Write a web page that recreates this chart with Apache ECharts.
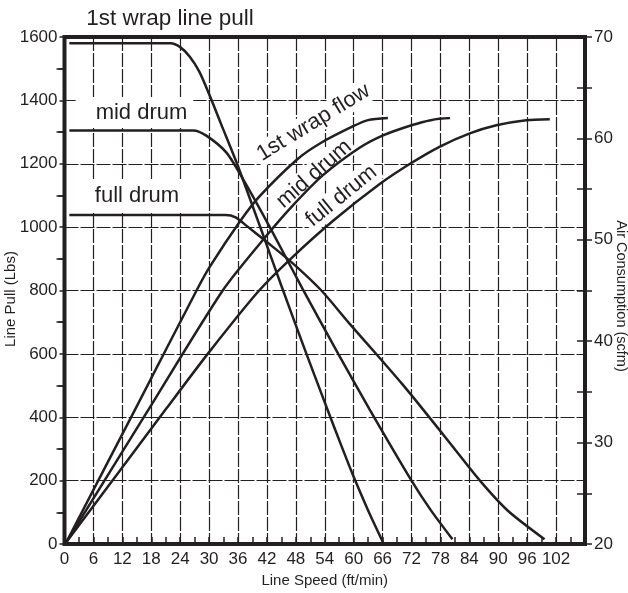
<!DOCTYPE html>
<html>
<head>
<meta charset="utf-8">
<script src="https://cdn.jsdelivr.net/npm/echarts@6/dist/echarts.min.js"></script>
<style>
html,body{margin:0;padding:0;background:#fff;}
#chart{width:628px;height:593px;}
</style>
</head>
<body>
<div id="chart"></div>
<script>
// ---- data ----
// Line pull (lbs) vs line speed (ft/min)
const pullFirstWrap = [[1,1580],[22,1580],[24,1568],[26,1538],[28,1490],[30,1420],[32.5,1325],[35.8,1200],[40.5,1005],[45,815],[50.2,600],[54.6,423],[57.5,308],[60,212],[63,106],[66.1,5]];
const pullMidDrum   = [[1,1305],[26.7,1305],[29.5,1288],[33.6,1235],[37.1,1150],[42.6,1000],[49.4,805],[56.8,600],[63.3,425],[72,200],[76,107],[80.5,15]];
const pullFullDrum  = [[1,1038],[33.4,1038],[35.5,1031],[37.8,1004],[42,953],[47.2,888],[53.3,800],[59,698],[65,594],[70,506],[74,432],[80,318],[86.2,200],[92,105],[99.6,15]];
// Air consumption (scfm) vs line speed
const flowFirstWrap = [[0.4,20.2],[14.8,33.4],[27.4,45.0],[30.1,47.3],[36.4,51.8],[40.5,54.3],[48.2,57.9],[53,59.5],[59.9,61.2],[63,61.8],[67.1,62.0]];
const flowMidDrum   = [[0.4,20.2],[17.1,33.0],[32.9,45.05],[41.9,50.4],[47.4,53.4],[53.7,56.4],[61.3,59.1],[66.1,60.3],[72,61.3],[76,61.8],[80,62.0]];
const flowFullDrum  = [[0.4,20.2],[21.2,33.4],[29.8,38.8],[40.2,44.9],[47.1,48.2],[55.8,51.9],[65.4,55.5],[71.7,57.5],[77.9,59.2],[84.1,60.5],[89.6,61.3],[95.8,61.8],[100.7,61.9]];

const xRange = [0, 108];      // labelled 0 … 102 every 6
const pullRange = [0, 1600];  // every 200
const flowRange = [20, 70];   // every 10

const ink = '#231f20';
const gridDash = {color: ink, width: 1.2, type: [14, 2]};
const FONT = 'Liberation Sans';

const chart = echarts.init(document.getElementById('chart'), null, {renderer: 'canvas'});

function lineSeries(name, data, yIdx) {
  return {
    name, type: 'line', data, yAxisIndex: yIdx, z: 2,
    showSymbol: false, symbol: 'none', smooth: 0.25,
    lineStyle: {color: ink, width: 2.5}, animation: false
  };
}

function label(text, x, y, size, deg, pad) {
  const st = {text, fill: ink, fontSize: size, fontFamily: FONT, align: 'center', verticalAlign: 'middle'};
  if (pad) { st.backgroundColor = '#fff'; st.padding = pad; }
  return {type: 'text', z: 1, x, y, rotation: deg * Math.PI / 180, style: st};
}

chart.setOption({
  animation: false,
  backgroundColor: '#fff',
  grid: {left: 64.5, right: 43, top: 37, bottom: 49, show: true,
         borderColor: ink, borderWidth: 4, backgroundColor: 'transparent'},
  xAxis: {
    type: 'value', min: xRange[0], max: xRange[1], interval: 6,
    axisLine: {show: false},
    axisTick: {show: true, inside: true, length: 7, lineStyle: {color: ink, width: 1.5}},
    minorTick: {show: true, splitNumber: 2, length: 7, lineStyle: {color: ink, width: 1.5}},
    splitLine: {show: true, lineStyle: gridDash},
    axisLabel: {color: ink, fontSize: 17, fontFamily: FONT, margin: 7,
      formatter: v => (v >= 108 ? '' : String(v))},
    name: 'Line Speed (ft/min)', nameLocation: 'middle', nameGap: 28,
    nameTextStyle: {color: ink, fontSize: 15, fontFamily: FONT}
  },
  yAxis: [
    { type: 'value', position: 'left', min: pullRange[0], max: pullRange[1], interval: 200,
      axisLine: {show: false},
      axisTick: {show: true, inside: false, length: 5, lineStyle: {color: ink, width: 1.5}},
      minorTick: {show: true, splitNumber: 2, length: 6, lineStyle: {color: ink, width: 1.5}},
      splitLine: {show: true, lineStyle: gridDash},
      axisLabel: {color: ink, fontSize: 17, fontFamily: FONT, margin: 7, formatter: v => String(v)} },
    { type: 'value', position: 'right', min: flowRange[0], max: flowRange[1], interval: 10,
      axisLine: {show: false},
      axisTick: {show: true, inside: false, length: 7, lineStyle: {color: ink, width: 1.5}},
      minorTick: {show: true, splitNumber: 2, length: 7, lineStyle: {color: ink, width: 1.5}},
      splitLine: {show: false},
      axisLabel: {color: ink, fontSize: 17, fontFamily: FONT, margin: 9, formatter: v => String(v)} },
    { type: 'value', position: 'left', min: pullRange[0], max: pullRange[1], interval: 200, z: 3,
      axisLine: {show: false},
      axisTick: {show: false},
      minorTick: {show: true, splitNumber: 2, length: 8, lineStyle: {color: ink, width: 1.5}},
      splitLine: {show: false}, axisLabel: {show: false} },
    { type: 'value', position: 'right', min: flowRange[0], max: flowRange[1], interval: 10, z: 3,
      axisLine: {show: false},
      axisTick: {show: true, inside: true, length: 8, lineStyle: {color: ink, width: 1.5}},
      minorTick: {show: true, splitNumber: 2, length: 8, lineStyle: {color: ink, width: 1.5}},
      splitLine: {show: false}, axisLabel: {show: false} }
  ],
  series: [
    lineSeries('1st wrap line pull', pullFirstWrap, 0),
    lineSeries('mid drum line pull', pullMidDrum, 0),
    lineSeries('full drum line pull', pullFullDrum, 0),
    lineSeries('1st wrap flow', flowFirstWrap, 1),
    lineSeries('mid drum flow', flowMidDrum, 1),
    lineSeries('full drum flow', flowFullDrum, 1)
  ],
  graphic: [
    label('1st wrap line pull', 170, 18.5, 22.5, 0, null),
    label('mid drum', 134.5, 112.5, 22, 0, [4, 6, 5, 20]),
    label('full drum', 130, 196, 22, 0, [4, 4, 5, 18]),
    label('1st wrap flow', 313.5, 122.5, 22, 31.5, [1, 3]),
    label('mid drum', 314, 174, 22, 41, [1, 3]),
    label('full drum', 341.5, 196, 22, 39, [1, 3]),
    label('Line Pull (Lbs)', 11, 299, 15, 90, null),
    label('Air Consumption (scfm)', 621, 296, 14.5, -90, null)
  ]
});
</script>
</body>
</html>
